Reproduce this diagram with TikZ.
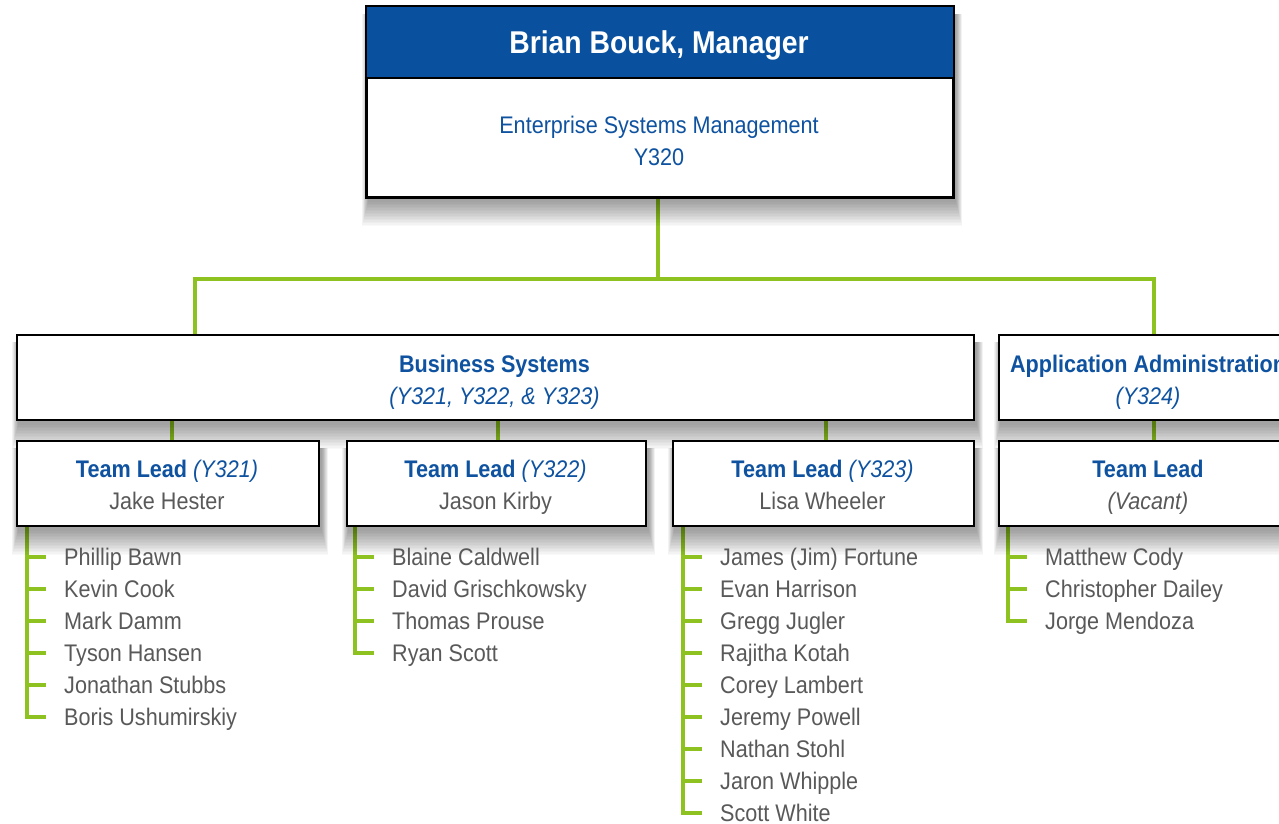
\documentclass[tikz,border=0pt]{standalone}
\usepackage{fontspec}
\setmainfont{Liberation Sans}[FakeStretch=0.9]
\usetikzlibrary{calc}
\definecolor{hdrblue}{RGB}{9,81,158}
\definecolor{txtblue}{RGB}{14,82,160}
\definecolor{lgreen}{RGB}{141,194,32}
\definecolor{ngray}{RGB}{89,89,89}
\pgfdeclarelayer{bg}
\pgfdeclarelayer{shade}
\pgfsetlayers{bg,shade,main}
\newcommand\softshadow[1]{%
  \begin{pgfonlayer}{shade}
  \foreach \s in {0,1.5,...,24}{%
    \fill[black,opacity=0.022] ($(#1.north west)+(2-\s*0.25,8)$) rectangle ($(#1.south east)+(2+\s*0.25,4+\s)$);}
  \end{pgfonlayer}}
\tikzset{
  box/.style={draw=black, line width=2pt, fill=white, rectangle, inner sep=0pt, anchor=north west},
  conn/.style={draw=lgreen, line width=3.6pt, line join=miter},
  lbl/.style={anchor=base, inner sep=0pt, font=\fontsize{24}{28}\selectfont, text=txtblue},
  person/.style={anchor=west, inner sep=0pt, text height=22pt, text depth=5pt, font=\fontsize{24}{28}\selectfont, text=ngray},
}
\begin{document}
\begin{tikzpicture}[x=1pt,y=-1pt]
\useasboundingbox (0,0) rectangle (1279,823);
\begin{pgfonlayer}{bg}
\fill[white] (0,0) rectangle (1279,823);
\end{pgfonlayer}

% boxes
\node[box, minimum width=586pt, minimum height=190pt] (mgr) at (366,6) {};
\fill[hdrblue] (mgr.north west) rectangle ($(mgr.north east)+(0,72)$);
\draw[line width=2pt] ($(mgr.north west)+(0,72)$) -- ($(mgr.north east)+(0,72)$);
\draw[line width=2pt] (mgr.north west) rectangle (mgr.south east);
\node[box, minimum width=957pt, minimum height=85pt] (bs) at (16,334) {};
\node[box, minimum width=300pt, minimum height=85pt] (aa) at (998,334) {};
\node[box, minimum width=302pt, minimum height=85pt] (tl1) at (16,440) {};
\node[box, minimum width=299pt, minimum height=85pt] (tl2) at (346,440) {};
\node[box, minimum width=301pt, minimum height=85pt] (tl3) at (672,440) {};
\node[box, minimum width=300pt, minimum height=85pt] (tl4) at (998,440) {};
\softshadow{mgr}\softshadow{bs}\softshadow{aa}
\softshadow{tl1}\softshadow{tl2}\softshadow{tl3}\softshadow{tl4}

% texts
\node[lbl, text=white, font=\fontsize{31.5}{36}\selectfont\bfseries] (mgrname) at (659,53.5) {Brian Bouck, Manager};
\node[lbl] (mgrdept) at (659,133.5) {Enterprise Systems Management};
\node[lbl] (mgrcode) at (659,165) {Y320};
\node[lbl] (bst) at (494.5,372) {\bfseries Business Systems};
\node[lbl] (bsc) at (494.5,404) {\itshape (Y321, Y322, \& Y323)};
\node[lbl] (aat) at (1148,372) {\bfseries Application Administration};
\node[lbl] (aac) at (1148,404) {\itshape (Y324)};
\node[lbl] (t1) at (167,477) {\textbf{Team Lead} \textit{(Y321)}};
\node[lbl, text=ngray] (n1) at (167,509) {Jake Hester};
\node[lbl] (t2) at (495.5,477) {\textbf{Team Lead} \textit{(Y322)}};
\node[lbl, text=ngray] (n2) at (495.5,509) {Jason Kirby};
\node[lbl] (t3) at (822.5,477) {\textbf{Team Lead} \textit{(Y323)}};
\node[lbl, text=ngray] (n3) at (822.5,509) {Lisa Wheeler};
\node[lbl] (t4) at (1148,477) {\textbf{Team Lead}};
\node[lbl, text=ngray] (n4) at (1148,509) {\itshape (Vacant)};

% member lists
\foreach \n [count=\i from 0] in {Phillip Bawn,Kevin Cook,Mark Damm,Tyson Hansen,Jonathan Stubbs,Boris Ushumirskiy}
  \node[person] (a\i) at (64,556.7+32*\i) {\n};
\foreach \n [count=\i from 0] in {Blaine Caldwell,David Grischkowsky,Thomas Prouse,Ryan Scott}
  \node[person] (b\i) at (392,556.7+32*\i) {\n};
\foreach \n [count=\i from 0] in {{James (Jim) Fortune},Evan Harrison,Gregg Jugler,Rajitha Kotah,Corey Lambert,Jeremy Powell,Nathan Stohl,Jaron Whipple,Scott White}
  \node[person] (c\i) at (720,556.7+32*\i) {\n};
\foreach \n [count=\i from 0] in {Matthew Cody,Christopher Dailey,Jorge Mendoza}
  \node[person] (d\i) at (1045,556.7+32*\i) {\n};

% connectors
\begin{pgfonlayer}{bg}
\coordinate (busy) at (0,279);
\coordinate (bsin) at ($(bs.north west)+(179,0)$);
\coordinate (aain) at ($(aa.north)+(5,0)$);
\coordinate (mout) at ($(mgr.south)+(-2,0)$);
\draw[conn] (mout) -- (mout |- busy);
\draw[conn] (bsin) -- (bsin |- busy) -- (aain |- busy) -- (aain);
\coordinate (u1) at ($(tl1.north)+(4,0)$);
\coordinate (u2) at ($(tl2.north)+(1.5,0)$);
\coordinate (u3) at ($(tl3.north)+(2.5,0)$);
\coordinate (u4) at ($(tl4.north)+(5,0)$);
\draw[conn] (u1) -- (u1 |- bs.south);
\draw[conn] (u2) -- (u2 |- bs.south);
\draw[conn] (u3) -- (u3 |- bs.south);
\draw[conn] (u4) -- (u4 |- aa.south);
\coordinate (l1) at ($(tl1.south west)+(11,0)$);
\coordinate (l2) at ($(tl2.south west)+(9,0)$);
\coordinate (l3) at ($(tl3.south west)+(11,0)$);
\coordinate (l4) at ($(tl4.south west)+(10,0)$);
\draw[conn] (l1) |- ($(a5.west)+(-18,0)$);
\foreach \i in {0,...,4} \draw[conn] (l1 |- a\i.west) -- ($(a\i.west)+(-18,0)$);
\draw[conn] (l2) |- ($(b3.west)+(-18,0)$);
\foreach \i in {0,...,2} \draw[conn] (l2 |- b\i.west) -- ($(b\i.west)+(-18,0)$);
\draw[conn] (l3) |- ($(c8.west)+(-18,0)$);
\foreach \i in {0,...,7} \draw[conn] (l3 |- c\i.west) -- ($(c\i.west)+(-18,0)$);
\draw[conn] (l4) |- ($(d2.west)+(-18,0)$);
\foreach \i in {0,...,1} \draw[conn] (l4 |- d\i.west) -- ($(d\i.west)+(-18,0)$);
\end{pgfonlayer}
\end{tikzpicture}
\end{document}
